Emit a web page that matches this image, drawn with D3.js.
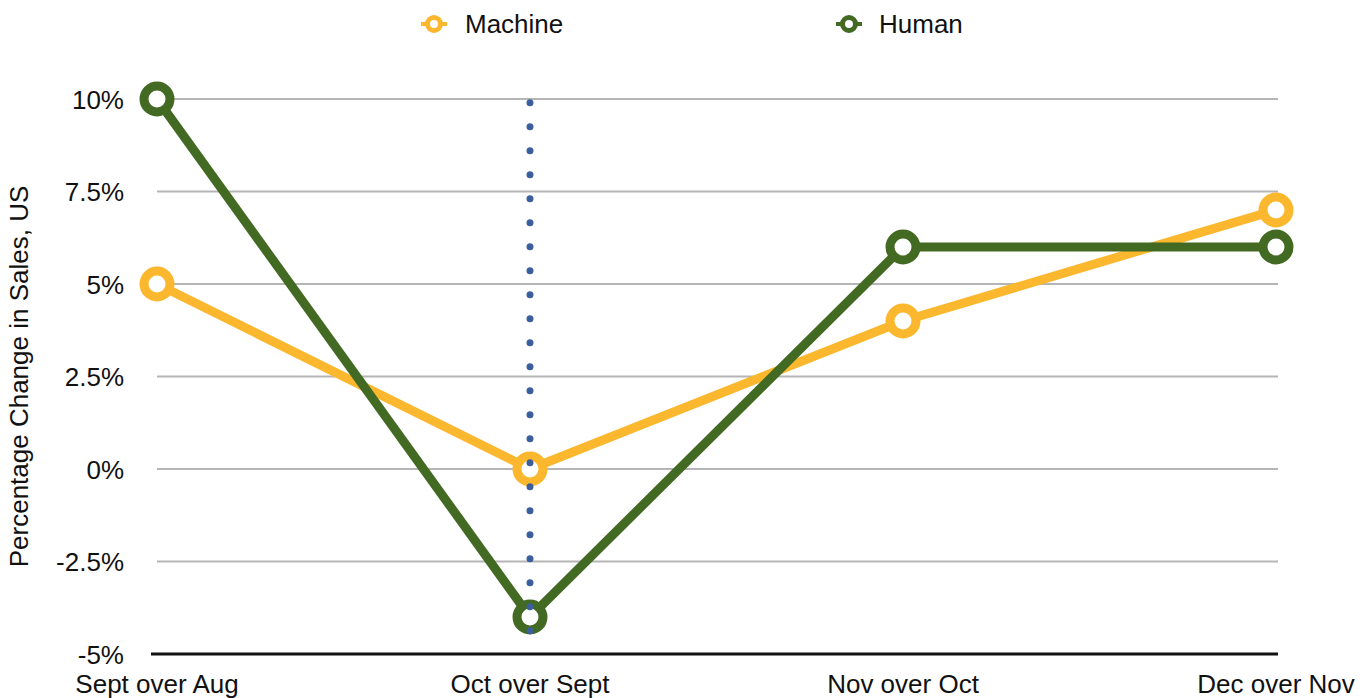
<!DOCTYPE html>
<html><head><meta charset="utf-8">
<script src="https://cdn.jsdelivr.net/npm/d3@7"></script>
<style>body{margin:0;background:#fff}svg{display:block;font-family:"Liberation Sans",Arial,Helvetica,sans-serif}</style>
</head><body><svg id="c" width="1372" height="698"></svg>
<script>
const categories = ["Sept over Aug","Oct over Sept","Nov over Oct","Dec over Nov"];
const machine = [5, 0, 4, 7];
const human = [10, -4, 6, 6];
const yTicks = [-5, -2.5, 0, 2.5, 5, 7.5, 10];
const yTickLabels = ["-5%","-2.5%","0%","2.5%","5%","7.5%","10%"];
const seriesNames = ["Machine","Human"];
const refCategory = "Oct over Sept";
const refRange = [9.9, -4.4];

const colors = {Machine:"#FBB72E", Human:"#436A23"};
const svg = d3.select("#c");
const x = d3.scalePoint().domain(categories).range([157, 1276]);
const y = d3.scaleLinear().domain([-5, 10]).range([654, 99]);

// gridlines
svg.append("g").selectAll("line").data(yTicks.filter(d => d > -5)).join("line")
  .attr("x1", 157).attr("x2", 1278).attr("y1", d => y(d)).attr("y2", d => y(d))
  .attr("stroke", "#b5b5b5").attr("stroke-width", 2);

// y tick labels
svg.append("g").selectAll("text").data(yTicks).join("text")
  .attr("x", 124).attr("y", d => y(d) + 9.5).attr("text-anchor", "end")
  .attr("font-size", 26).attr("fill", "#111").text((d, i) => yTickLabels[i]);

// x axis line
svg.append("line").attr("x1", 151).attr("x2", 1278).attr("y1", y(-5)).attr("y2", y(-5))
  .attr("stroke", "#111").attr("stroke-width", 3);

// x labels
svg.append("g").selectAll("text").data(categories).join("text")
  .attr("x", d => x(d)).attr("y", 693).attr("text-anchor", "middle")
  .attr("font-size", 26).attr("fill", "#111").text(d => d);

// y axis title
svg.append("text").attr("transform", "translate(28," + y(2.5) + ") rotate(-90)")
  .attr("text-anchor", "middle").attr("font-size", 26).attr("fill", "#111")
  .text("Percentage Change in Sales, US");

// series lines
const line = d3.line().x((d, i) => x(categories[i])).y(d => y(d));
const data = {Machine: machine, Human: human};
seriesNames.forEach(name => {
  svg.append("path").datum(data[name]).attr("d", line).attr("fill", "none")
    .attr("stroke", colors[name]).attr("stroke-width", 9).attr("stroke-linejoin", "round");
});

// markers
seriesNames.forEach(name => {
  svg.append("g").selectAll("circle").data(data[name]).join("circle")
    .attr("cx", (d, i) => x(categories[i])).attr("cy", d => y(d)).attr("r", 13)
    .attr("fill", "#fff").attr("stroke", colors[name]).attr("stroke-width", 9);
});

// reference dotted line (drawn on top of markers)
svg.append("line").attr("x1", x(refCategory)).attr("x2", x(refCategory))
  .attr("y1", y(refRange[0])).attr("y2", y(refRange[1]) + 1)
  .attr("stroke", "#3C5F9B").attr("stroke-width", 7).attr("stroke-linecap", "round")
  .attr("stroke-dasharray", "0 24");

// legend
const legendX = [434, 849], textX = [465, 879];
seriesNames.forEach((name, i) => {
  const g = svg.append("g");
  g.append("line").attr("x1", legendX[i] - 13).attr("x2", legendX[i] + 13).attr("y1", 24).attr("y2", 24)
    .attr("stroke", colors[name]).attr("stroke-width", 4);
  g.append("circle").attr("cx", legendX[i]).attr("cy", 24).attr("r", 6.5)
    .attr("fill", "#fff").attr("stroke", colors[name]).attr("stroke-width", 5);
  g.append("text").attr("x", textX[i]).attr("y", 33).attr("font-size", 26).attr("fill", "#111").text(name);
});
</script></body></html>
